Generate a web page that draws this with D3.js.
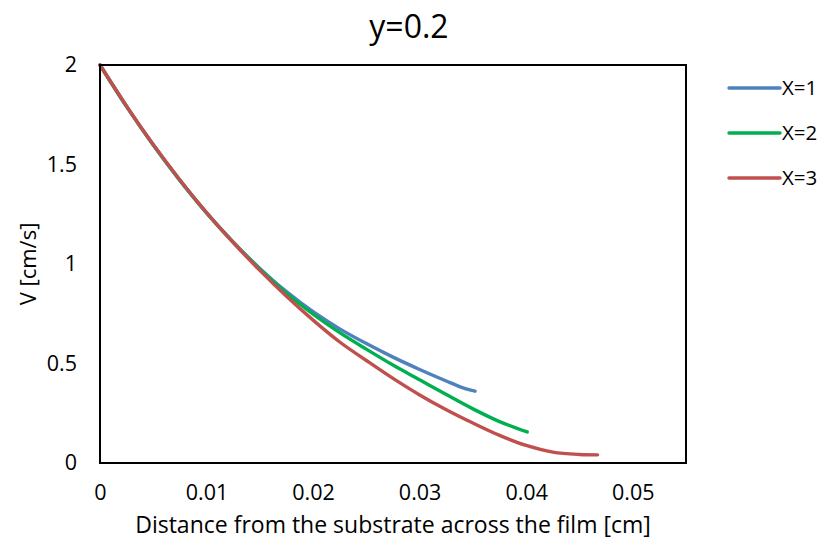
<!DOCTYPE html>
<html>
<head>
<meta charset="utf-8">
<script src="https://cdn.jsdelivr.net/npm/d3@7"></script>
<style>
  html, body { margin: 0; padding: 0; background: #fff; }
  svg { display: block; font-family: "Open Sans", sans-serif; }
</style>
</head>
<body>
<svg id="chart" width="825" height="548"></svg>
<script>
// ---- Data ----
const chartTitle = "y=0.2";
const xTitle = "Distance from the substrate across the film [cm]";
const yTitle = "V [cm/s]";
const seriesNames = ["X=1", "X=2", "X=3"];
const seriesColors = ["#4F81BD", "#00B050", "#C0504D"];

const xTicks = [0, 0.01, 0.02, 0.03, 0.04, 0.05];
const xTickLabels = ["0", "0.01", "0.02", "0.03", "0.04", "0.05"];
const yTicks = [0, 0.5, 1, 1.5, 2];
const yTickLabels = ["0", "0.5", "1", "1.5", "2"];

const xX1 = [0, 0.0025, 0.005, 0.0075, 0.01, 0.0125, 0.015, 0.0175, 0.02, 0.0225, 0.025, 0.0275, 0.03, 0.0325, 0.0338, 0.0347, 0.0352];
const vX1 = [2.0, 1.791, 1.598, 1.420, 1.257, 1.110, 0.978, 0.861, 0.760, 0.674, 0.600, 0.532, 0.470, 0.412, 0.383, 0.367, 0.361];

const xX2 = [0, 0.0025, 0.005, 0.0075, 0.01, 0.0125, 0.015, 0.0175, 0.02, 0.0225, 0.025, 0.0275, 0.03, 0.0325, 0.035, 0.0375, 0.0401];
const vX2 = [2.0, 1.791, 1.598, 1.420, 1.257, 1.110, 0.975, 0.853, 0.748, 0.655, 0.572, 0.492, 0.418, 0.344, 0.272, 0.208, 0.156];

const xX3 = [0, 0.0025, 0.005, 0.0075, 0.01, 0.0125, 0.015, 0.0175, 0.02, 0.0225, 0.025, 0.0275, 0.03, 0.0325, 0.035, 0.0375, 0.04, 0.0425, 0.045, 0.0467];
const vX3 = [2.0, 1.793, 1.600, 1.422, 1.258, 1.108, 0.968, 0.838, 0.718, 0.608, 0.515, 0.425, 0.342, 0.268, 0.201, 0.139, 0.088, 0.055, 0.043, 0.041];

const seriesX = [xX1, xX2, xX3];
const seriesV = [vX1, vX2, vX3];

// ---- Layout ----
const plot = { left: 100, top: 65, right: 686, bottom: 463 };
const svg = d3.select("#chart");

const x = d3.scaleLinear().domain([0, 0.055]).range([plot.left, plot.right]);
const y = d3.scaleLinear().domain([0, 2]).range([plot.bottom, plot.top]);

// Title
svg.append("text")
  .attr("x", 409).attr("y", 38)
  .attr("text-anchor", "middle")
  .attr("font-size", 32)
  .attr("fill", "#000")
  .text(chartTitle);

// Axes (labels only)
const xAxis = d3.axisBottom(x).tickValues(xTicks)
  .tickFormat((d, i) => xTickLabels[i]).tickSize(0).tickPadding(22);
const gx = svg.append("g").attr("transform", `translate(0,${plot.bottom})`).call(xAxis);
gx.select(".domain").remove();
gx.selectAll("text").attr("font-size", 21.5).attr("font-family", "Open Sans").attr("fill", "#000");

const yAxis = d3.axisLeft(y).tickValues(yTicks)
  .tickFormat((d, i) => yTickLabels[i]).tickSize(0).tickPadding(23);
const gy = svg.append("g").attr("transform", `translate(${plot.left},0)`).call(yAxis);
gy.select(".domain").remove();
gy.selectAll("text").attr("font-size", 21.5).attr("font-family", "Open Sans").attr("fill", "#000");

// Axis titles
svg.append("text")
  .attr("x", 393).attr("y", 533)
  .attr("text-anchor", "middle")
  .attr("font-size", 23)
  .attr("fill", "#000")
  .text(xTitle);

svg.append("text")
  .attr("transform", `translate(36,${(plot.top + plot.bottom) / 2}) rotate(-90)`)
  .attr("text-anchor", "middle")
  .attr("font-size", 22)
  .attr("fill", "#000")
  .text(yTitle);

// Lines
const line = d3.line()
  .x(d => x(d[0]))
  .y(d => y(d[1]))
  .curve(d3.curveCatmullRom.alpha(0.5));

seriesNames.forEach((name, i) => {
  const pts = seriesX[i].map((xv, j) => [xv, seriesV[i][j]]);
  svg.append("path")
    .datum(pts)
    .attr("fill", "none")
    .attr("stroke", seriesColors[i])
    .attr("stroke-width", 3.4)
    .attr("stroke-linecap", "round")
    .attr("stroke-linejoin", "round")
    .attr("d", line);
});

// Plot frame
svg.append("rect")
  .attr("x", plot.left).attr("y", plot.top)
  .attr("width", plot.right - plot.left)
  .attr("height", plot.bottom - plot.top)
  .attr("fill", "none")
  .attr("stroke", "#000")
  .attr("stroke-width", 2);

// Legend
const legendY = [88, 133, 178];
const lg = svg.append("g");
seriesNames.forEach((name, i) => {
  lg.append("line")
    .attr("x1", 729).attr("x2", 780)
    .attr("y1", legendY[i]).attr("y2", legendY[i])
    .attr("stroke", seriesColors[i])
    .attr("stroke-width", 3.4)
    .attr("stroke-linecap", "round");
  lg.append("text")
    .attr("x", 782).attr("y", legendY[i])
    .attr("dy", "0.36em")
    .attr("font-size", 20.5)
    .attr("fill", "#000")
    .text(name);
});
</script>
</body>
</html>
